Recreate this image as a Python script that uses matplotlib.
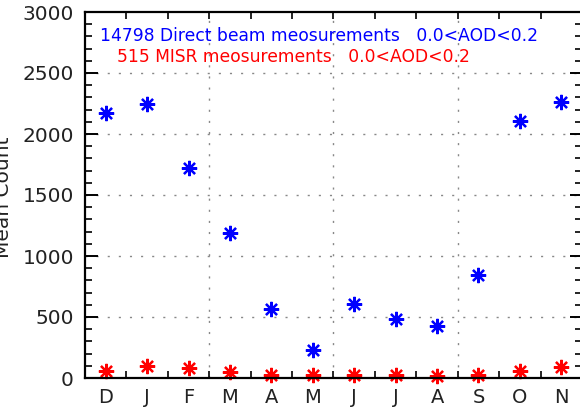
import matplotlib
matplotlib.use('Agg')
import matplotlib.pyplot as plt
import numpy as np

months = ['D', 'J', 'F', 'M', 'A', 'M', 'J', 'J', 'A', 'S', 'O', 'N']
direct_beam = [2170, 2245, 1720, 1190, 565, 230, 610, 487, 426, 844, 2110, 2262]
misr = [60, 95, 80, 50, 28, 25, 22, 22, 16, 22, 55, 88]
direct_label = '14798 Direct beam meosurements   0.0<AOD<0.2'
misr_label = '515 MISR meosurements   0.0<AOD<0.2'

plt.rcParams['font.family'] = ['DejaVu Sans']

fig = plt.figure(figsize=(5.8, 4.09), dpi=100)
W, H = 580.0, 409.0
ax = fig.add_axes([85 / W, (H - 378) / H, 497 / W, 366 / H])

x = np.arange(len(months)) + 0.5
star = (8, 2, 0)
ax.plot(x, direct_beam, linestyle='none', marker=star, ms=11, mew=1.6,
        color='blue', clip_on=False)
ax.plot(x, misr, linestyle='none', marker=star, ms=11, mew=1.6,
        color='red', clip_on=False)

ax.set_xlim(0, 12)
ax.set_ylim(0, 3000)

# dotted grid every 500 counts and every 3 months
for yv in range(500, 3000, 500):
    ax.axhline(yv, color='#888888', lw=1.0, dashes=(1.5, 6.5), zorder=0)
for xv in (3, 6, 9):
    ax.axvline(xv, color='#888888', lw=1.0, dashes=(1.5, 6.5), zorder=0)

ax.set_xticks(x)
ax.set_xticklabels(months)
ax.set_xticks(np.arange(0, 13), minor=True)
ax.tick_params(axis='x', which='major', length=0, pad=7, labelsize=14)
ax.tick_params(axis='x', which='minor', direction='in', length=5, width=1.2,
               top=True, bottom=True)

ax.set_yticks(np.arange(0, 3001, 500))
ax.set_yticks(np.arange(0, 3001, 100), minor=True)
ax.tick_params(axis='y', which='major', direction='in', length=9, width=1.4,
               left=True, right=True, pad=8, labelsize=14.5)
ax.tick_params(axis='y', which='minor', direction='in', length=5, width=1.2,
               left=True, right=True)
for lab in ax.get_xticklabels() + ax.get_yticklabels():
    lab.set_color('#222222')

for side in ax.spines.values():
    side.set_linewidth(1.6)

fig.text(13 / W, 1 - 197 / H, 'Mean Count', rotation=90, ha='right',
         va='center', fontsize=14.5, color='#222222')

fig.text(100 / W, 1 - 41 / H, direct_label, color='blue', fontsize=12.3,
         ha='left', va='baseline')
fig.text(117 / W, 1 - 62 / H, misr_label, color='red', fontsize=12.3,
         ha='left', va='baseline')

fig.savefig('out.png', dpi=100)
